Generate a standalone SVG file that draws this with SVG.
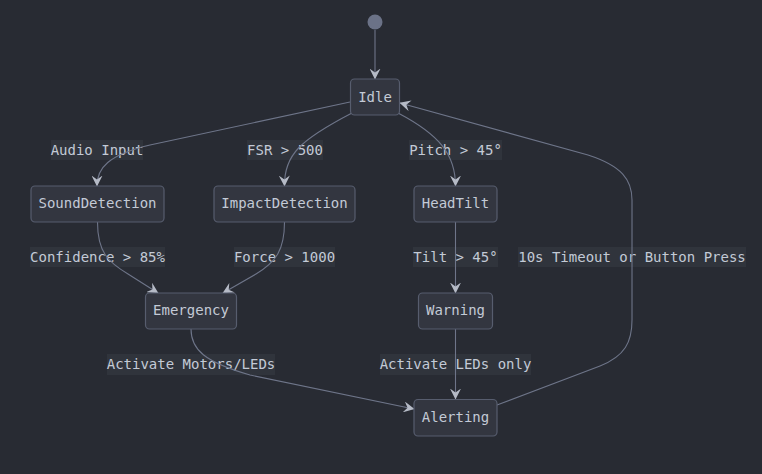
<svg xmlns="http://www.w3.org/2000/svg" width="762" height="474" viewBox="0 0 762 474">
<defs>
<style>
.node rect{fill:#333640;stroke:#575d6e;stroke-width:1.2}
.node text,.lbl text{font-family:"DejaVu Sans Mono",monospace;font-size:14px;fill:#c3cad6;text-anchor:middle;dominant-baseline:central}
.edge{fill:none;stroke:#6e7589;stroke-width:1.1;marker-end:url(#arr)}
.lbl rect{fill:#30343c}
</style>
<marker id="arr" viewBox="0 0 10 10" refX="9.5" refY="5" markerWidth="11" markerHeight="11" markerUnits="userSpaceOnUse" orient="auto">
<path d="M0,0 L10,5 L0,10 L3.5,5 z" fill="#b5bac6"/>
</marker>
</defs>
<rect width="762" height="474" fill="#282b33"/>
<g class="lbl">
<rect x="51" y="140" width="92" height="20"/><text x="97" y="149.5">Audio Input</text>
<rect x="247" y="140" width="76" height="20"/><text x="285" y="149.5">FSR &gt; 500</text>
<rect x="409" y="140" width="93" height="20"/><text x="455.5" y="149.5">Pitch &gt; 45°</text>
<rect x="30" y="247" width="135" height="20"/><text x="97.5" y="256.5">Confidence &gt; 85%</text>
<rect x="234" y="247" width="101" height="20"/><text x="284.5" y="256.5">Force &gt; 1000</text>
<rect x="413" y="247" width="85" height="20"/><text x="455.5" y="256.5">Tilt &gt; 45°</text>
<rect x="518" y="247" width="228" height="20"/><text x="632" y="256.5">10s Timeout or Button Press</text>
<rect x="107" y="354" width="168" height="21"/><text x="191" y="363.5">Activate Motors/LEDs</text>
<rect x="380" y="354" width="151" height="21"/><text x="455.5" y="363.5">Activate LEDs only</text>
</g>
<g id="connectors">
<path class="edge" d="M375,30 L375,79"/>
<path class="edge" d="M350,102 L150,145 C108,155 97,168 97,186"/>
<path class="edge" d="M352,113 C300,140 284,155 284.5,186"/>
<path class="edge" d="M398,113 C440,135 455.5,155 455.5,186"/>
<path class="edge" d="M97.5,222 C97.5,252 108,262 128,274 L158,293"/>
<path class="edge" d="M284.5,222 C284.5,250 276,262 256,274 L223,293"/>
<path class="edge" d="M455.5,222 L455.5,293"/>
<path class="edge" d="M455.5,329 L455.5,399"/>
<path class="edge" d="M191,329 C191,350 205,362 250,375 L414,409"/>
<path class="edge" d="M497,405 L600,366 C625,356 632,342 632,320 L632,200 C632,180 622,166 588,155 L400,103"/>
</g>
<g id="start"><circle cx="375" cy="22" r="7.5" fill="#6b7287"/></g>
<g id="Idle" class="node"><rect x="350.5" y="79" width="49" height="36" rx="4"/><text x="375" y="96.5">Idle</text></g>
<g id="SoundDetection" class="node"><rect x="31" y="186" width="133" height="36" rx="4"/><text x="97.5" y="203">SoundDetection</text></g>
<g id="ImpactDetection" class="node"><rect x="214" y="186" width="141" height="36" rx="4"/><text x="284.5" y="203">ImpactDetection</text></g>
<g id="HeadTilt" class="node"><rect x="414" y="186" width="83" height="36" rx="4"/><text x="455.5" y="203">HeadTilt</text></g>
<g id="Emergency" class="node"><rect x="145.5" y="293" width="91" height="36" rx="4"/><text x="191" y="310">Emergency</text></g>
<g id="Warning" class="node"><rect x="418.5" y="293" width="74" height="36" rx="4"/><text x="455.5" y="310">Warning</text></g>
<g id="Alerting" class="node"><rect x="414" y="399.5" width="83" height="36.5" rx="4"/><text x="455.5" y="417">Alerting</text></g>
</svg>
